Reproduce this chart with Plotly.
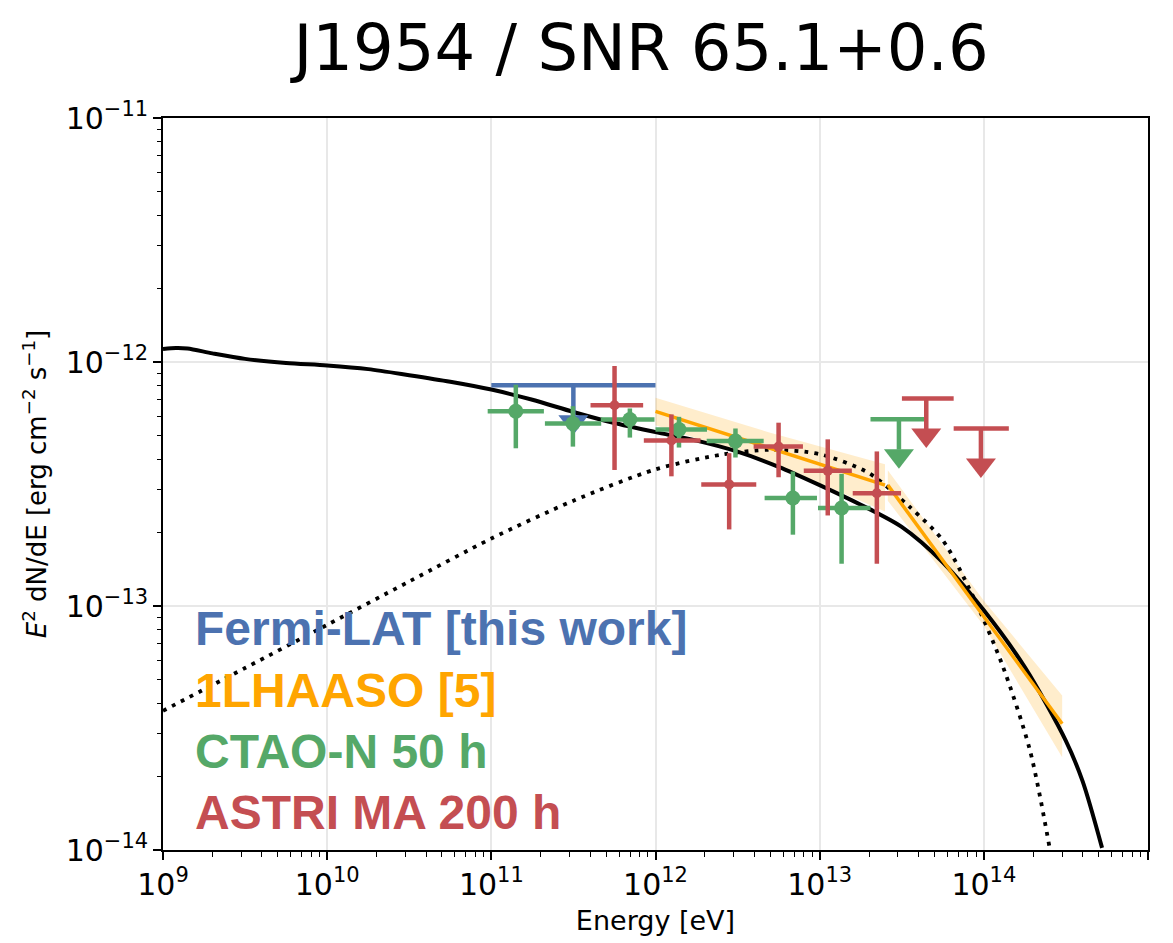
import numpy as np
import plotly.graph_objects as go

# ---------------- data ----------------
# Fermi-LAT upper limit
fermi_e = [3.16e11]
fermi_elo = [1.0e11]
fermi_ehi = [1.0e12]
fermi_ul = [8.03e-13]

# CTAO-N 50 h simulated points
ctao_e = [1.41e11, 3.14e11, 6.98e11, 1.39e12, 3.07e12, 6.87e12, 1.36e13]
ctao_elo = [9.5e10, 2.12e11, 4.64e11, 1.0e12, 2.05e12, 4.62e12, 9.77e12]
ctao_ehi = [2.09e11, 4.67e11, 9.86e11, 2.06e12, 4.56e12, 9.63e12, 2.04e13]
ctao_f = [6.28e-13, 5.60e-13, 5.81e-13, 5.29e-13, 4.74e-13, 2.77e-13, 2.52e-13]
ctao_fhi = [8.07e-13, 6.59e-13, 6.45e-13, 5.96e-13, 5.34e-13, 3.56e-13, 3.48e-13]
ctao_flo = [4.43e-13, 4.50e-13, 4.90e-13, 4.46e-13, 4.06e-13, 1.96e-13, 1.49e-13]
ctao_ul_e = [3.04e13]
ctao_ul_elo = [2.04e13]
ctao_ul_ehi = [4.32e13]
ctao_ul = [5.83e-13]

# ASTRI MA 200 h simulated points
astri_e = [5.63e11, 1.25e12, 2.81e12, 5.62e12, 1.12e13, 2.23e13]
astri_elo = [4.02e11, 8.49e11, 1.90e12, 3.96e12, 8.0e12, 1.59e13]
astri_ehi = [8.41e11, 1.88e12, 4.11e12, 7.91e12, 1.57e13, 3.13e13]
astri_f = [6.65e-13, 4.77e-13, 3.15e-13, 4.50e-13, 3.58e-13, 2.90e-13]
astri_fhi = [9.63e-13, 6.10e-13, 4.23e-13, 5.64e-13, 4.82e-13, 4.30e-13]
astri_flo = [3.61e-13, 3.40e-13, 2.06e-13, 3.37e-13, 2.35e-13, 1.49e-13]
astri_ul_e = [4.46e13, 9.60e13]
astri_ul_elo = [3.17e13, 6.55e13]
astri_ul_ehi = [6.55e13, 1.42e14]
astri_ul = [7.08e-13, 5.34e-13]

# 1LHAASO spectra (WCDA and KM2A components) with uncertainty bands
wcda_e = [1.0e12, 5.0e12, 2.5e13]
wcda_f = [6.28e-13, 4.45e-13, 3.13e-13]
wcda_up = [7.13e-13, 5.13e-13, 3.81e-13]
wcda_lo = [5.50e-13, 3.89e-13, 2.44e-13]
km2a_e = [2.6e13, 1.0e14, 3.0e14]
km2a_f = [3.13e-13, 9.2e-14, 3.29e-14]
km2a_up = [3.60e-13, 1.05e-13, 4.30e-14]
km2a_lo = [2.70e-13, 8.3e-14, 2.40e-14]

# model curves (total: solid; component: dotted)
model_e = [1.0e9, 1.2e9, 1.41e9, 2.0e9, 3.16e9, 5.62e9, 1.0e10, 1.78e10, 3.16e10,
           5.62e10, 1.0e11, 1.78e11, 3.16e11, 5.62e11, 1.0e12, 1.78e12, 3.16e12,
           5.62e12, 1.0e13, 1.78e13, 3.16e13, 5.62e13, 1.0e14, 1.78e14, 3.16e14,
           4.0e14, 5.25e14]
model_f = [1.13e-12, 1.14e-12, 1.135e-12, 1.085e-12, 1.03e-12, 9.9e-13, 9.68e-13,
           9.35e-13, 8.83e-13, 8.30e-13, 7.71e-13, 7.0e-13, 6.24e-13, 5.62e-13,
           5.16e-13, 4.76e-13, 4.29e-13, 3.72e-13, 3.13e-13, 2.60e-13, 2.11e-13,
           1.51e-13, 9.6e-14, 5.6e-14, 2.80e-14, 1.91e-14, 1.02e-14]
comp_e = [1.0e9, 3.16e9, 1.0e10, 3.16e10, 1.0e11, 3.16e11, 1.0e12, 2.51e12,
          5.01e12, 1.0e13, 2.0e13, 3.55e13, 5.62e13, 8.51e13, 1.29e14, 1.91e14,
          2.51e14]
comp_f = [3.72e-14, 5.57e-14, 8.37e-14, 1.26e-13, 1.89e-13, 2.70e-13, 3.63e-13,
          4.17e-13, 4.37e-13, 4.19e-13, 3.50e-13, 2.54e-13, 1.86e-13, 1.11e-13,
          5.78e-14, 2.56e-14, 1.03e-14]

# legend labels
labels = ["Fermi-LAT [this work]", "1LHAASO [5]", "CTAO-N 50 h", "ASTRI MA 200 h"]

BLUE = "#4C72B0"
ORANGE = "#FFA500"
GREEN = "#55A868"
RED = "#C44E52"
UL_FRAC = 0.75      # length of upper-limit stem
HEAD_SHIFT = 0.945  # place triangle so that its base sits at stem end

fig = go.Figure()

# LHAASO bands
for e, up, lo in [(wcda_e, wcda_up, wcda_lo), (km2a_e, km2a_up, km2a_lo)]:
    fig.add_trace(go.Scatter(x=e + e[::-1], y=up + lo[::-1], fill="toself",
                             fillcolor="rgba(255,165,0,0.2)", line=dict(width=0),
                             mode="lines", hoverinfo="skip", showlegend=False))

# model curves
fig.add_trace(go.Scatter(x=comp_e, y=comp_f, mode="lines", line_shape="spline",
                         line=dict(color="black", width=3.8, dash="3.8px,6.2px",
                                   smoothing=0.8),
                         showlegend=False))
fig.add_trace(go.Scatter(x=model_e, y=model_f, mode="lines", line_shape="spline",
                         line=dict(color="black", width=4, smoothing=0.8),
                         showlegend=False))

# LHAASO lines
for e, f in [(wcda_e, wcda_f), (km2a_e, km2a_f)]:
    fig.add_trace(go.Scatter(x=[e[0], e[-1]], y=[f[0], f[-1]], mode="lines",
                             line=dict(color=ORANGE, width=3.5), showlegend=False))


def add_ul(e, elo, ehi, ul, color):
    ea = np.array(e); ua = np.array(ul)
    fig.add_trace(go.Scatter(
        x=e, y=ul, mode="markers", marker=dict(size=1, color=color),
        error_x=dict(type="data", symmetric=False, array=list(np.array(ehi) - ea),
                     arrayminus=list(ea - np.array(elo)), color=color, thickness=4.5, width=0),
        error_y=dict(type="data", symmetric=False, array=[0] * len(e),
                     arrayminus=list(ua * (1 - UL_FRAC)), color=color, thickness=4.5, width=0),
        showlegend=False))
    fig.add_trace(go.Scatter(x=e, y=list(ua * UL_FRAC * HEAD_SHIFT), mode="markers",
                             marker=dict(symbol="triangle-down", size=26, color=color,
                                         line=dict(width=0)), showlegend=False))


def add_pts(e, elo, ehi, f, flo, fhi, color, msize):
    ea = np.array(e); fa = np.array(f)
    fig.add_trace(go.Scatter(
        x=e, y=f, mode="markers", marker=dict(size=msize, color=color, line=dict(width=0)),
        error_x=dict(type="data", symmetric=False, array=list(np.array(ehi) - ea),
                     arrayminus=list(ea - np.array(elo)), color=color, thickness=4.5, width=0),
        error_y=dict(type="data", symmetric=False, array=list(np.array(fhi) - fa),
                     arrayminus=list(fa - np.array(flo)), color=color, thickness=4.5, width=0),
        showlegend=False))


add_ul(fermi_e, fermi_elo, fermi_ehi, fermi_ul, BLUE)
add_pts(ctao_e, ctao_elo, ctao_ehi, ctao_f, ctao_flo, ctao_fhi, GREEN, 15)
add_ul(ctao_ul_e, ctao_ul_elo, ctao_ul_ehi, ctao_ul, GREEN)
add_pts(astri_e, astri_elo, astri_ehi, astri_f, astri_flo, astri_fhi, RED, 10)
add_ul(astri_ul_e, astri_ul_elo, astri_ul_ehi, astri_ul, RED)

colors = [BLUE, ORANGE, GREEN, RED]
for i, (lab, col) in enumerate(zip(labels, colors)):
    fig.add_annotation(text="<b>%s</b>" % lab, xref="paper", yref="paper",
                       x=0.030, y=0.302 - i * 0.0836, xanchor="left", yanchor="middle",
                       showarrow=False,
                       font=dict(family="Liberation Sans, Arial", size=48, color=col))

axis_common = dict(type="log", showline=True, linecolor="black", linewidth=2,
                   mirror=True, ticks="outside", ticklen=8, tickwidth=1.5,
                   tickcolor="black", showgrid=True, gridcolor="#e8e8e8", gridwidth=1.5,
                   exponentformat="power", zeroline=False,
                   tickfont=dict(family="DejaVu Sans", size=24, color="black"),
                   minor=dict(ticks="outside", ticklen=4.5, tickwidth=1.2,
                              tickcolor="black", dtick="D1", showgrid=False))

fig.update_layout(
    width=1173, height=943,
    margin=dict(l=163, r=25, t=118, b=91),
    paper_bgcolor="white", plot_bgcolor="white",
    title=dict(text="J1954 / SNR 65.1+0.6", x=0.5 + (641 - 586.5) / 1173, xanchor="center",
               y=1 - 48 / 943, yanchor="middle",
               font=dict(family="DejaVu Sans", size=64, color="black")),
    xaxis=dict(axis_common, range=[9, 15], dtick=1,
               title=dict(text="Energy [eV]", standoff=10,
                          font=dict(family="DejaVu Sans", size=27, color="black"))),
    yaxis=dict(axis_common, range=[-14, -11], dtick=1,
               title=dict(text="<i>E</i><sup>2</sup> dN/dE [erg cm<sup>−2</sup> s<sup>−1</sup>]",
                          standoff=12,
                          font=dict(family="DejaVu Sans", size=26, color="black"))),
)

fig.write_html("out.html")
